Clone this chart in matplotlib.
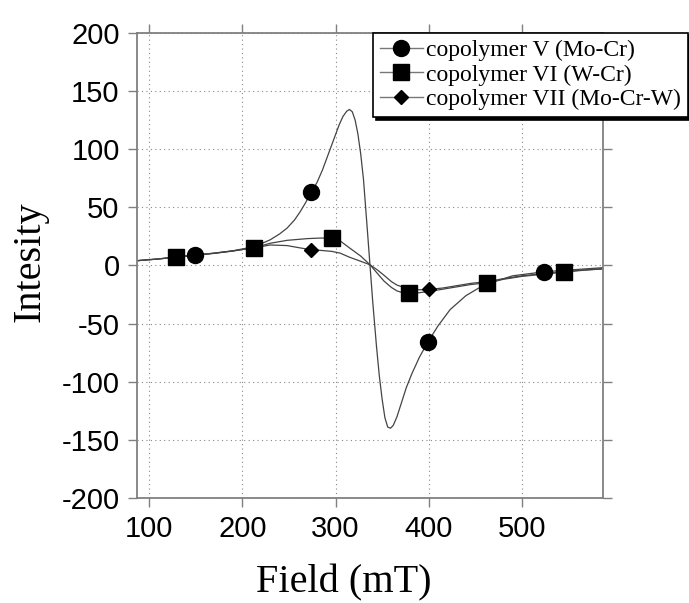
import matplotlib
matplotlib.use("Agg")
import matplotlib.pyplot as plt
from matplotlib.lines import Line2D

plt.rcParams['axes.unicode_minus'] = False

# curve samples (field in mT, intensity)
v_x = [87, 110, 129, 149, 170, 190, 212, 220, 230, 240, 248, 256, 262, 268, 274, 280, 286, 292, 298, 304,
       308, 312, 315, 318, 321, 324, 327, 330, 334, 337, 340, 344, 347, 350, 353, 356, 359, 362, 366, 370,
       376, 382, 390, 399, 410, 423, 440, 459, 490, 524, 560, 587]
v_y = [4, 5.5, 7, 8.8, 10.5, 12.5, 16, 18.5, 22, 27, 32, 39, 46, 54, 63, 71, 82, 95, 108, 121,
       128, 132.5, 134, 132, 125, 113, 96, 74, 32, 0, -32, -70, -95, -115, -131, -139, -140, -137.5, -130, -120,
       -105, -93, -79, -66, -52, -38, -26, -17, -9, -5.5, -3.5, -2]

vi_x = [87, 110, 129, 149, 170, 190, 212, 230, 248, 270, 285, 296, 305, 315, 327, 337, 345, 352, 360, 366,
        372, 379, 390, 400, 415, 430, 445, 462, 480, 500, 524, 545, 565, 587]
vi_y = [4, 5.5, 7.4, 8.8, 10.5, 12.5, 15, 19, 21.5, 23, 23.5, 23, 21, 15, 8, 0.5, -7, -13.5, -19, -22,
        -23.5, -24, -23.5, -22.5, -20.5, -18.5, -16.5, -15, -12, -9.5, -7.5, -5.8, -4.3, -3]

vii_x = [87, 110, 129, 149, 170, 190, 212, 230, 248, 262, 274, 285, 296, 305, 315, 327, 337, 345, 352, 360,
         366, 379, 390, 400, 415, 430, 445, 462, 480, 500, 524, 545, 565, 587]
vii_y = [4, 5.5, 7, 8.6, 10.3, 12.3, 15, 17.5, 17, 15, 13.4, 12.8, 12, 10.5, 7, 3.5, 0.5, -4, -8.5, -14,
         -17, -20.5, -21, -20.7, -19.5, -17.5, -15.5, -14, -11.5, -9, -7, -5.5, -4, -3]

# marker positions
v_mx = [149, 274, 399, 524]
v_my = [8.8, 63.4, -65.7, -5.5]
vi_mx = [129, 212, 296, 379, 462, 545]
vi_my = [7.4, 15.1, 23.1, -23.8, -14.9, -5.8]
vii_mx = [274, 400]
vii_my = [13.4, -20.7]

labels = ["copolymer V (Mo-Cr)", "copolymer VI (W-Cr)", "copolymer VII (Mo-Cr-W)"]

fig = plt.figure(figsize=(6.89, 6.03), dpi=100)
ax = fig.add_axes([137/689, 1-498/603, (603-137)/689, (498-32.7)/603])

lc = "#444444"
ax.plot(v_x, v_y, color=lc, lw=0.9)
ax.plot(vi_x, vi_y, color=lc, lw=0.9)
ax.plot(vii_x, vii_y, color=lc, lw=0.9)
ax.plot(v_mx, v_my, 'o', color='black', ms=11.5, ls='none', zorder=4)
ax.plot(vi_mx, vi_my, 's', color='black', ms=11.5, ls='none', zorder=4)
ax.plot(vii_mx, vii_my, 'D', color='black', ms=7.5, ls='none', zorder=4)

ax.set_xlim(87, 587)
ax.set_ylim(-200, 200)
ax.set_xticks([100, 200, 300, 400, 500])
ax.set_yticks(range(-200, 201, 50))
ax.grid(True, color='#888888', lw=0.8, ls=(0, (1, 3)))

for s in ax.spines.values():
    s.set_color('#808080')
    s.set_linewidth(1.3)
ax.tick_params(direction='out', length=6.5, width=1, color='#808080',
               top=True, right=True, labelsize=21, pad=6)
for t in ax.get_xticklabels() + ax.get_yticklabels():
    t.set_family('Liberation Sans')

fig.text(344/689, 1-592/603, "Field (mT)", family='Liberation Serif', fontsize=29,
         ha='center', va='baseline')
fig.text(30/689, 1-262/603, "Intesity", family='Liberation Serif', fontsize=29,
         ha='center', va='center', rotation=90)

handles = [
    Line2D([], [], color='#777777', lw=1, marker='o', mfc='black', mec='black', ms=11.5),
    Line2D([], [], color='#777777', lw=1, marker='s', mfc='black', mec='black', ms=11.5),
    Line2D([], [], color='#777777', lw=1, marker='D', mfc='black', mec='black', ms=7.5),
]
leg = fig.legend(handles, labels, loc='upper left', bbox_to_anchor=(373/689, 1-32.7/603),
                 prop={'family': 'Liberation Serif', 'size': 17}, fancybox=False,
                 edgecolor='black', framealpha=1, borderaxespad=0, handlelength=1.8,
                 handletextpad=0.15, labelspacing=0.12, borderpad=0.3,
                 shadow={'color': 'black', 'alpha': 1})
leg.get_frame().set_linewidth(1.2)

fig.savefig("out.png", dpi=100)
